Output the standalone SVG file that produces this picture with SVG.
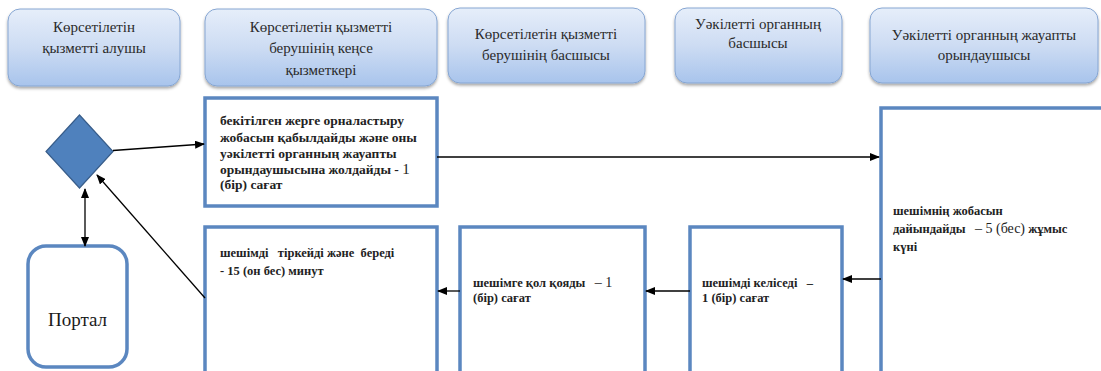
<svg xmlns="http://www.w3.org/2000/svg" width="1101" height="371" viewBox="0 0 1101 371">
<defs>
<linearGradient id="hg" x1="0" y1="0" x2="0" y2="1">
<stop offset="0" stop-color="#e6eefa"/>
<stop offset="0.5" stop-color="#cddcf3"/>
<stop offset="1" stop-color="#a8c4ec"/>
</linearGradient>
<filter id="sh" x="-10%" y="-10%" width="120%" height="130%">
<feDropShadow dx="0" dy="2" stdDeviation="1.5" flood-color="#000" flood-opacity="0.35"/>
</filter>
<marker id="ah" markerWidth="10" markerHeight="8" refX="9" refY="4" orient="auto" markerUnits="userSpaceOnUse">
<path d="M0,0 L10,4 L0,8 z" fill="#000"/>
</marker>
<marker id="as" markerWidth="10" markerHeight="8" refX="1" refY="4" orient="auto" markerUnits="userSpaceOnUse">
<path d="M10,0 L0,4 L10,8 z" fill="#000"/>
</marker>
</defs>
<style>
.hdr{fill:url(#hg);stroke:#86a6d2;stroke-width:1;filter:url(#sh)}
.ht{font-family:"Liberation Serif",serif;font-size:15px;fill:#2a2a2a;text-anchor:middle}
.box{fill:#fff;stroke:#5b87c0;stroke-width:3.5}
.bt{font-family:"Liberation Serif",serif;font-size:12.5px;font-weight:bold;fill:#222}
.bta{font-size:13.5px}
.ln{stroke:#000;stroke-width:1.3;fill:none}
</style>
<rect width="1101" height="371" fill="#fff"/>

<g id="h1"><rect class="hdr" x="8" y="9" width="172" height="77" rx="12"/>
<text class="ht" x="94" y="32">Көрсетілетін</text><text class="ht" x="94" y="53">қызметті алушы</text></g>
<g id="h2"><rect class="hdr" x="205" y="9" width="232" height="77" rx="12"/>
<text class="ht" x="321" y="32">Көрсетілетін қызметті</text><text class="ht" x="321" y="53">берушінің кеңсе</text><text class="ht" x="321" y="75">қызметкері</text></g>
<g id="h3"><rect class="hdr" x="448" y="8" width="197" height="75" rx="12"/>
<text class="ht" x="546" y="39">Көрсетілетін  қызметті</text><text class="ht" x="546" y="60">берушінің  басшысы</text></g>
<g id="h4"><rect class="hdr" x="675" y="8" width="167" height="75" rx="12"/>
<text class="ht" x="758" y="29">Уәкілетті органның</text><text class="ht" x="758" y="48">басшысы</text></g>
<g id="h5"><rect class="hdr" x="870" y="8" width="228" height="75" rx="12"/>
<text class="ht" x="984" y="40">Уәкілетті органның  жауапты</text><text class="ht" x="984" y="60">орындаушысы</text></g>

<g id="diamond"><path d="M79.5,115 L113,151.5 L79.5,188 L46,151.5 z" fill="#4f81bd" stroke="#385d8a" stroke-width="1.2"/></g>

<g id="portal"><rect x="28" y="246" width="99" height="121" rx="18" fill="#fff" stroke="#5b87c0" stroke-width="3.5"/>
<text x="77.5" y="326" font-family="Liberation Serif,serif" font-size="19" fill="#1a1a1a" text-anchor="middle">Портал</text></g>

<g id="boxA"><rect class="box" x="205" y="98" width="232" height="108"/>
<text class="bt bta" x="220" y="125">бекітілген жерге орналастыру</text>
<text class="bt bta" x="220" y="142">жобасын қабылдайды және оны</text>
<text class="bt bta" x="220" y="158">уәкілетті органның жауапты</text>
<text class="bt bta" x="220" y="174">орындаушысына жолдайды - <tspan font-weight="normal" font-size="15">1</tspan></text>
<text class="bt bta" x="220" y="189">(бір) сағат</text></g>

<g id="boxB"><rect class="box" x="205" y="227" width="232" height="160"/>
<text class="bt" x="220" y="257" xml:space="preserve">шешімді   тіркейді және  береді</text>
<text class="bt" x="220" y="275">- 15 (он бес) минут</text></g>

<g id="boxC"><rect class="box" x="460" y="227" width="185" height="160"/>
<text class="bt" x="473" y="287" xml:space="preserve">шешімге қол қояды   <tspan font-weight="normal" font-size="14">– 1</tspan></text>
<text class="bt" x="473" y="302">(бір) сағат</text></g>

<g id="boxD"><rect class="box" x="690" y="227" width="152" height="160"/>
<text class="bt" x="702" y="287" xml:space="preserve">шешімді келіседі   –</text>
<text class="bt" x="702" y="302">1 (бір) сағат</text></g>

<g id="boxE"><rect class="box" x="881" y="108" width="240" height="280"/>
<text class="bt" x="893" y="215">шешімнің жобасын</text>
<text class="bt" x="893" y="233" xml:space="preserve">дайындайды   <tspan font-weight="normal" font-size="14">– 5 (бес)</tspan> жұмыс</text>
<text class="bt" x="893" y="251">күні</text></g>

<g id="connectors">
<line class="ln" x1="113" y1="150.5" x2="204" y2="144" marker-end="url(#ah)"/>
<line class="ln" x1="85" y1="189" x2="85" y2="246" marker-start="url(#as)" marker-end="url(#ah)"/>
<line class="ln" x1="205" y1="298" x2="97" y2="175" marker-end="url(#ah)"/>
<line class="ln" x1="437" y1="157" x2="879" y2="157" marker-end="url(#ah)"/>
<line class="ln" x1="881" y1="279" x2="843" y2="279" marker-end="url(#ah)"/>
<line class="ln" x1="690" y1="291" x2="646" y2="291" marker-end="url(#ah)"/>
<line class="ln" x1="460" y1="291" x2="438" y2="291" marker-end="url(#ah)"/>
</g>
</svg>
